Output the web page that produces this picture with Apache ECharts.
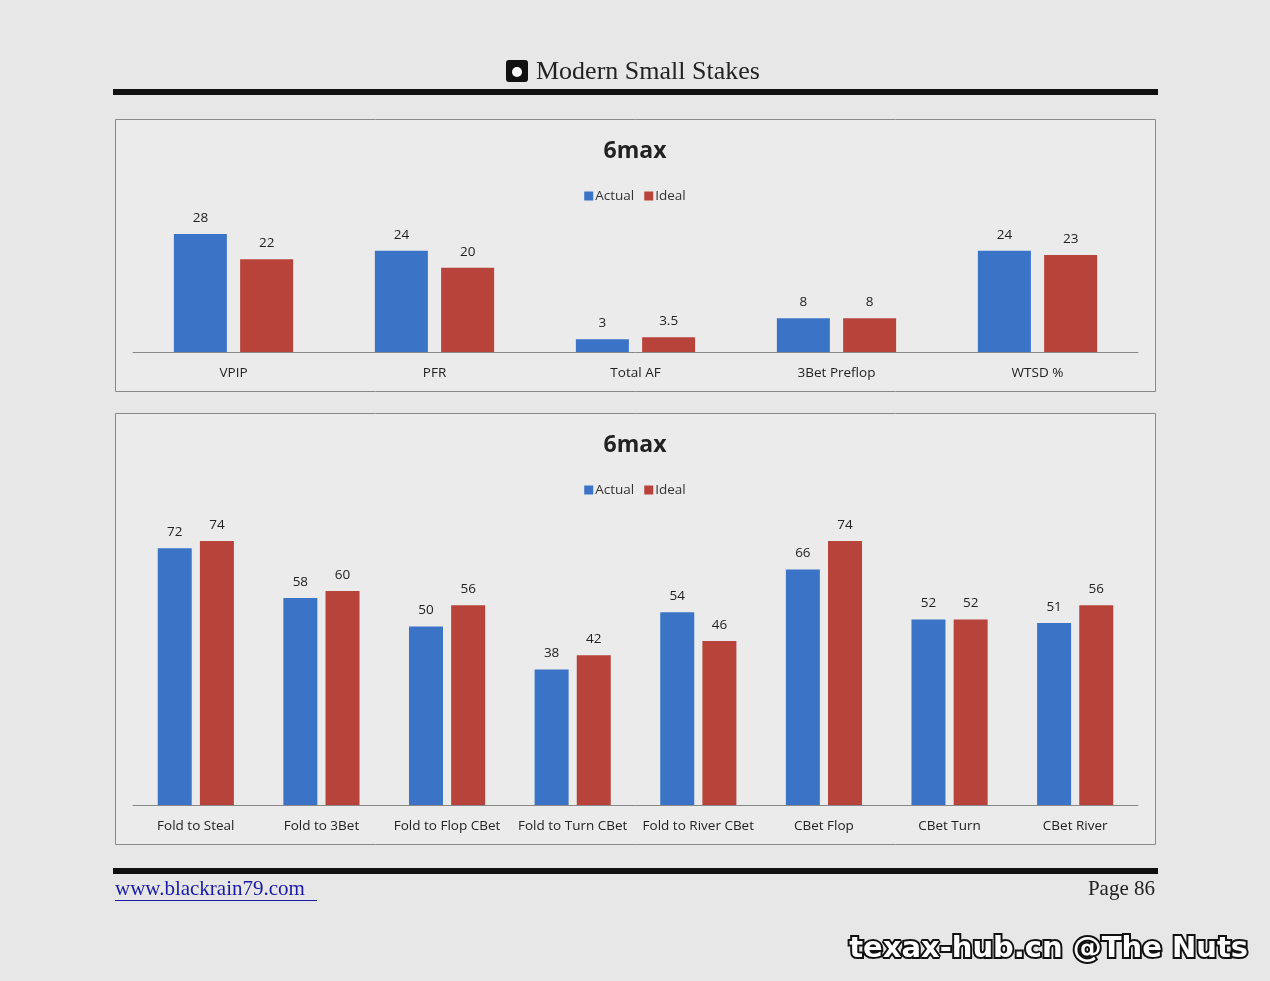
<!DOCTYPE html>
<html><head><meta charset="utf-8">
<script src="https://cdn.jsdelivr.net/npm/echarts@6/dist/echarts.min.js"></script>
<style>html,body{margin:0;padding:0;background:#e7e7e7}#c{width:1270px;height:981px}</style>
</head><body><div id="c"></div>
<script>
const cats1 = ['VPIP','PFR','Total AF','3Bet Preflop','WTSD %'];
const actual1 = [28,24,3,8,24];
const ideal1 = [22,20,3.5,8,23];
const cats2 = ['Fold to Steal','Fold to 3Bet','Fold to Flop CBet','Fold to Turn CBet','Fold to River CBet','CBet Flop','CBet Turn','CBet River'];
const actual2 = [72,58,50,38,54,66,52,51];
const ideal2 = [74,60,56,42,46,74,52,56];
const BLUE='#3b73c7', RED='#b8433b';
const F='"Open Sans", "Noto Sans", sans-serif';
const chart = echarts.init(document.getElementById('c'));
const lbl = {show:true, position:'top', color:'#222', fontSize:13.5, fontFamily:F, distance:9};
const xa = (i,cats)=>({type:'category', gridIndex:i, data:cats, axisTick:{show:false},
  axisLine:{lineStyle:{color:'#888'}}, axisLabel:{interval:0, color:'#222', fontSize:13.5, fontFamily:F, margin:14}});
const leg = top=>({top:top, left:'center', icon:'rect', itemWidth:9, itemHeight:9, itemGap:10, data:['Actual','Ideal'], textStyle:{fontSize:13.5,color:'#333',fontFamily:F,padding:[0,0,0,-3]}});
chart.setOption({
  backgroundColor:'#e7e7e7',
  animation:false,
  title:[
    {text:'6max', left:'center', top:135, textStyle:{fontSize:23, fontWeight:'bold', color:'#222', fontFamily:F}},
    {text:'6max', left:'center', top:429, textStyle:{fontSize:23, fontWeight:'bold', color:'#222', fontFamily:F}}
  ],
  legend:[leg(184), leg(478)],
  grid:[
    {left:133, width:1005, top:234, height:118},
    {left:133, width:1005, top:541, height:264}
  ],
  xAxis:[xa(0,cats1), xa(1,cats2)],
  yAxis:[
    {type:'value', gridIndex:0, min:0, max:28, show:false},
    {type:'value', gridIndex:1, min:0, max:74, show:false}
  ],
  series:[
    {name:'Actual', type:'bar', xAxisIndex:0, yAxisIndex:0, data:actual1, barWidth:53, barGap:'25%', itemStyle:{color:BLUE}, label:lbl},
    {name:'Ideal', type:'bar', xAxisIndex:0, yAxisIndex:0, data:ideal1, barWidth:53, barGap:'25%', itemStyle:{color:RED}, label:lbl},
    {name:'Actual', type:'bar', xAxisIndex:1, yAxisIndex:1, data:actual2, barWidth:34, barGap:'24%', itemStyle:{color:BLUE}, label:lbl},
    {name:'Ideal', type:'bar', xAxisIndex:1, yAxisIndex:1, data:ideal2, barWidth:34, barGap:'24%', itemStyle:{color:RED}, label:lbl}
  ],
  graphic:[
    {type:'rect', z:-10, shape:{x:115.5,y:119.5,width:1040,height:272}, style:{fill:'#ebebeb', stroke:'#8a8a8a', lineWidth:1}},
    {type:'rect', z:-10, shape:{x:115.5,y:413.5,width:1040,height:431}, style:{fill:'#ebebeb', stroke:'#8a8a8a', lineWidth:1}},
    {type:'rect', shape:{x:113,y:89,width:1045,height:6}, style:{fill:'#111'}},
    {type:'rect', shape:{x:113,y:868,width:1045,height:6}, style:{fill:'#111'}},
    {type:'rect', shape:{x:506,y:60,width:22,height:22,r:3}, style:{fill:'#111'}},
    {type:'circle', shape:{cx:517,cy:72,r:5}, style:{fill:'#fff'}},
    {type:'text', left:536, top:59, style:{text:'Modern Small Stakes', font:'26px "Liberation Serif", "DejaVu Serif", serif', fill:'#222'}},
    {type:'text', left:115, top:879, style:{text:'www.blackrain79.com', font:'21px "Liberation Serif", serif', fill:'#1a1aa6'}},
    {type:'rect', shape:{x:115,y:900,width:202,height:1}, style:{fill:'#1a1aa6'}},
    {type:'text', right:115, top:879, style:{text:'Page 86', font:'21px "Liberation Serif", serif', fill:'#222'}},
    {type:'text', right:20, top:933, style:{text:'texax-hub.cn @The Nuts', font:'bold 29px "DejaVu Sans", sans-serif', fill:'#fff', stroke:'#111', lineWidth:4}}
  ]
});
</script></body></html>
